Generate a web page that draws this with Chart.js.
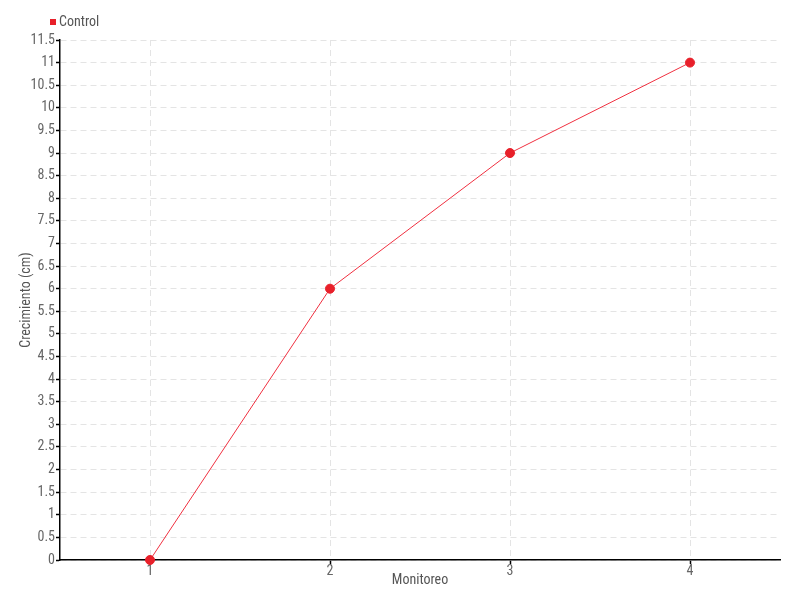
<!DOCTYPE html>
<html>
<head>
<meta charset="utf-8">
<script src="https://cdn.jsdelivr.net/npm/chart.js@4/dist/chart.umd.min.js"></script>
<style>
html,body{margin:0;padding:0;background:#fff;}
#wrap{width:800px;height:600px;}
</style>
</head>
<body>
<div id="wrap"><canvas id="c" width="800" height="600"></canvas></div>
<script>
const categories = ['1', '2', '3', '4'];
const controlValues = [0, 6, 9, 11];
const seriesName = 'Control';
const xTitle = 'Monitoreo';
const yTitle = 'Crecimiento (cm)';

const FONT = "'Liberation Sans Narrow', 'Roboto Condensed', 'DejaVu Sans Condensed', Roboto, sans-serif";
const RED = '#e8202a';

const legendPlugin = {
  id: 'customLegend',
  afterDraw(chart) {
    const ctx = chart.ctx;
    const ds = chart.data.datasets[0];
    ctx.save();
    ctx.fillStyle = RED;
    ctx.fillRect(50, 19, 6, 6);
    ctx.fillStyle = '#555';
    ctx.font = "14px " + FONT;
    ctx.textBaseline = 'middle';
    ctx.textAlign = 'left';
    ctx.fillText(ds.label, 59, 22);
    ctx.restore();
  }
};

new Chart(document.getElementById('c'), {
  type: 'line',
  data: {
    labels: categories,
    datasets: [{
      label: seriesName,
      data: controlValues,
      borderColor: '#f03040',
      backgroundColor: RED,
      borderWidth: 1,
      pointRadius: 4.5,
      pointHoverRadius: 4.5,
      pointBackgroundColor: RED,
      pointBorderColor: RED,
      tension: 0,
      clip: false
    }]
  },
  options: {
    responsive: false,
    animation: false,
    devicePixelRatio: 1,
    layout: { padding: { top: 40, right: 20, left: 0, bottom: 0 } },
    plugins: {
      legend: { display: false },
      tooltip: { enabled: false }
    },
    scales: {
      x: {
        type: 'category',
        offset: true,
        afterFit(s) { s.height = 40; },
        grid: {
          offset: false,
          color: '#e4e4e4',
          drawTicks: true,
          tickLength: 4,
          tickColor: '#000',
          tickBorderDash: [],
          tickWidth: 1.5
        },
        border: { display: true, color: '#000', width: 1.5, dash: [6, 4] },
        ticks: { color: '#666', font: { family: FONT, size: 14 }, padding: -1 },
        title: {
          display: true, text: xTitle, color: '#555',
          font: { family: FONT, size: 14 }, padding: { top: 0, bottom: 11 }
        }
      },
      y: {
        min: 0,
        max: 11.5,
        afterFit(s) { s.width = 60; },
        ticks: {
          stepSize: 0.5,
          color: '#666',
          font: { family: FONT, size: 14 },
          padding: 1,
          autoSkip: false,
          callback: (v) => String(Math.round(v * 10) / 10)
        },
        grid: {
          color: '#e4e4e4',
          tickLength: 4,
          tickColor: '#000',
          tickBorderDash: [],
          tickWidth: 1.5
        },
        border: { display: true, color: '#000', width: 1.5, dash: [6, 4] },
        title: {
          display: true, text: yTitle, color: '#555',
          font: { family: FONT, size: 14 }, padding: { top: 18, bottom: 0 }
        }
      }
    }
  },
  plugins: [legendPlugin]
});
</script>
</body>
</html>
